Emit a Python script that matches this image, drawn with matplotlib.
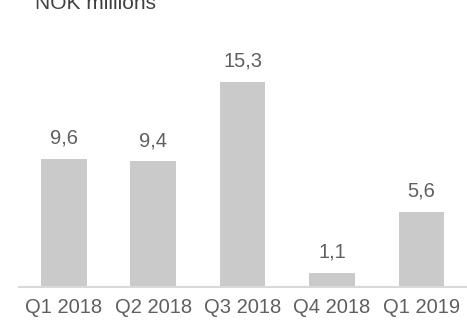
import matplotlib
matplotlib.use('Agg')
import matplotlib.pyplot as plt

plt.rcParams['font.family'] = ['Liberation Sans', 'DejaVu Sans']

quarters = ['Q1 2018', 'Q2 2018', 'Q3 2018', 'Q4 2018', 'Q1 2019']
values = [9.6, 9.4, 15.3, 1.1, 5.6]
labels = ['9,6', '9,4', '15,3', '1,1', '5,6']

text_col = '#5f5f5f'
bar_col = '#c9cac9'

fig = plt.figure(figsize=(4.67, 3.23), dpi=100)
ax = fig.add_axes([19 / 467, 35.7 / 323, 448 / 467, 287.3 / 323])

ax.bar(range(len(values)), values, width=0.51, color=bar_col)
for i, (v, lab) in enumerate(zip(values, labels)):
    ax.annotate(lab, (i, v), xytext=(0, 11), textcoords='offset points',
                ha='center', va='baseline', fontsize=14.5, color=text_col)

ax.set_xlim(-0.5, 4.51)
ax.set_ylim(0, 21.44)
ax.set_xticks(range(len(quarters)))
ax.set_xticklabels(quarters, fontsize=14.5, color=text_col)
ax.tick_params(axis='x', length=0, pad=8)
ax.set_yticks([])
for side in ['top', 'right', 'left']:
    ax.spines[side].set_visible(False)
ax.spines['bottom'].set_color('#d9d9d9')
ax.spines['bottom'].set_linewidth(1.5)

fig.text(35 / 467, (323 - 9) / 323, 'NOK millions', fontsize=15,
         color='#404040', ha='left', va='baseline')

fig.savefig('out.png', dpi=100)
